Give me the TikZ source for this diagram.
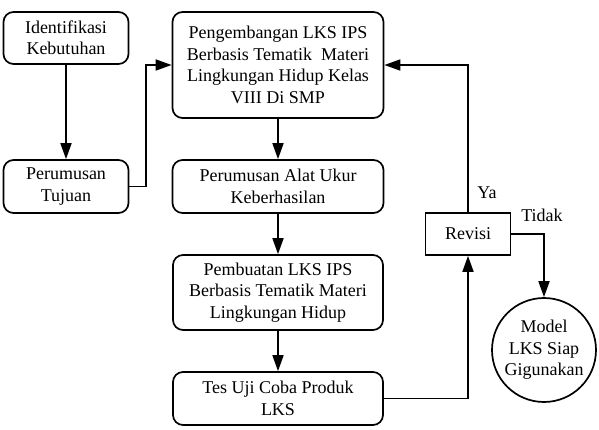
\documentclass[tikz,border=0pt]{standalone}
\usepackage{fontspec}
\setmainfont{Liberation Serif}
\usetikzlibrary{arrows.meta}
\begin{document}
\begin{tikzpicture}[x=1pt,y=-1pt,line width=1.7pt,
  panah/.style={-{Triangle[length=16pt,width=11pt]}},
  kotak/.style={draw,rounded corners=10pt,align=center,inner sep=0pt,
    font=\rmfamily\fontsize{18}{21.5}\selectfont},
  teks/.style={font=\rmfamily\fontsize{18}{21.5}\selectfont}]
  \useasboundingbox (0,0) rectangle (599,430);
  % left column
  \node[kotak,minimum width=125pt,minimum height=52pt] (ident) at (66,38) {Identifikasi\\Kebutuhan};
  \node[kotak,minimum width=125pt,minimum height=53pt] (tujuan) at (66,186.5) {Perumusan\\Tujuan};
  % middle column
  \node[kotak,minimum width=211pt,minimum height=106pt] (kembang) at (278,65)
    {Pengembangan LKS IPS\\Berbasis Tematik\ \ Materi\\Lingkungan Hidup Kelas\\VIII Di SMP};
  \node[kotak,minimum width=211pt,minimum height=53pt] (alat) at (278,186.5) {Perumusan Alat Ukur\\Keberhasilan};
  \node[kotak,minimum width=210pt,minimum height=75pt] (buat) at (278,292.5)
    {Pembuatan LKS IPS\\Berbasis Tematik Materi\\Lingkungan Hidup};
  \node[kotak,minimum width=210pt,minimum height=53pt] (uji) at (278,398.5) {Tes Uji Coba Produk\\LKS};
  % revisi and model
  \node[kotak,rounded corners=0pt,minimum width=85pt,minimum height=42pt] (revisi) at (468,234) {Revisi};
  \node[kotak,circle,minimum size=104pt] (model) at (544,350) {Model\\LKS Siap\\Gigunakan};
  % bends
  \coordinate (belok1) at (146,65);
  \coordinate (belok2) at (468,65);
  % arrows
  \draw[panah] (ident) -- (tujuan);
  \draw[panah] (tujuan.east) -| (belok1) -- (kembang.west);
  \draw[panah] (kembang) -- (alat);
  \draw[panah] (alat) -- (buat);
  \draw[panah] (buat) -- (uji);
  \draw[panah] (uji.east) -| (revisi.south);
  \draw[panah] (revisi.north) -- (belok2) -- (kembang.east);
  \draw[panah] (revisi.east) -| (model.north);
  % labels
  \node[teks] (ya) at (487,193) {Ya};
  \node[teks] (tidak) at (542,215) {Tidak};
\end{tikzpicture}
\end{document}
